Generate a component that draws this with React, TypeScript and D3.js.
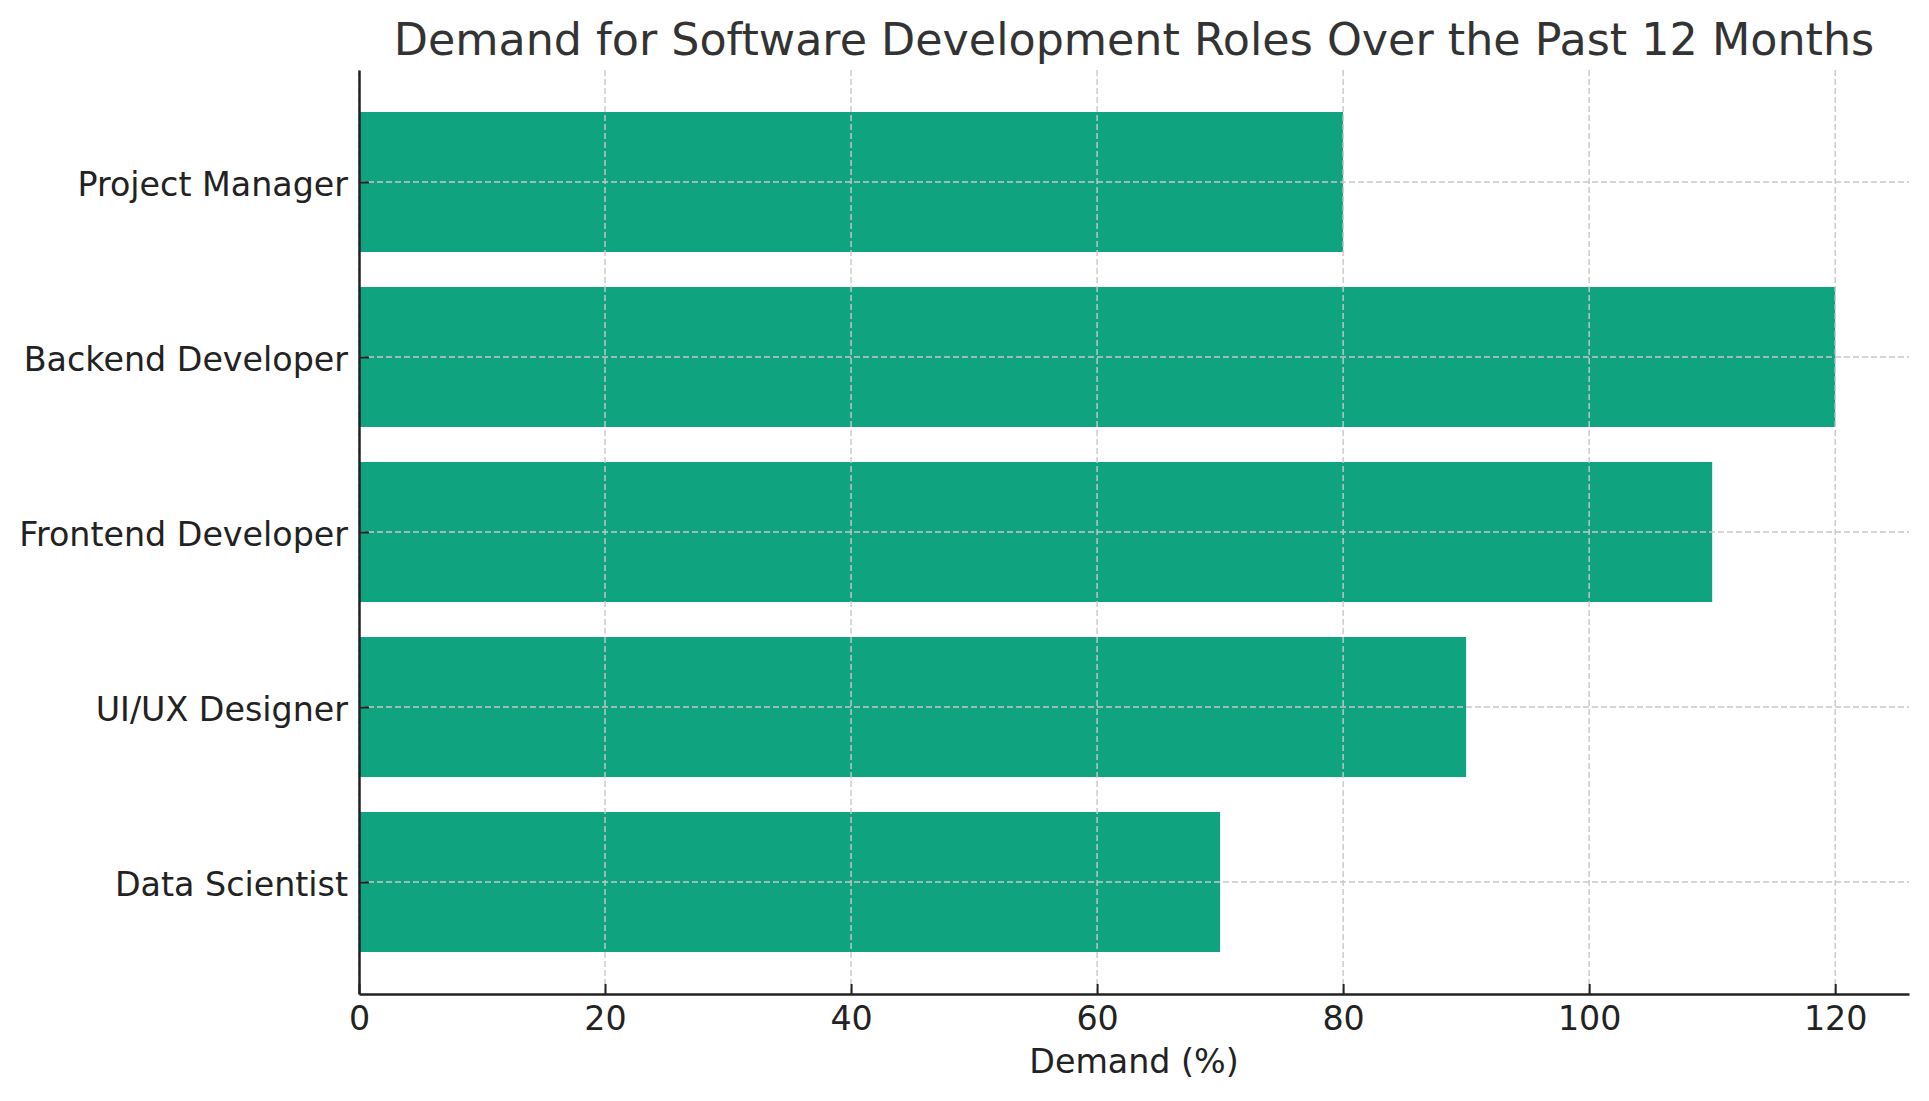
import { useEffect, useRef } from 'react';
import * as d3 from 'd3';

const roles = ['Data Scientist', 'UI/UX Designer', 'Frontend Developer', 'Backend Developer', 'Project Manager'];
const demand = [70, 90, 110, 120, 80];
const xTicks = [0, 20, 40, 60, 80, 100, 120];

const W = 1929;
const H = 1101;

export default function App() {
  const ref = useRef<SVGSVGElement | null>(null);

  useEffect(() => {
    if (!ref.current) return;
    const svg = d3.select(ref.current);
    svg.selectAll('*').remove();

    const margin = { top: 70, right: 20, bottom: 107, left: 359 };
    const width = W - margin.left - margin.right;
    const height = H - margin.top - margin.bottom;
    const font = 'DejaVu Sans, sans-serif';

    const x = d3.scaleLinear().domain([0, 126]).range([0, width]);
    const y = d3.scaleLinear().domain([-0.64, roles.length - 1 + 0.64]).range([height, 0]);

    const g = svg.append('g').attr('transform', `translate(${margin.left},${margin.top})`);

    // bars
    g.selectAll('rect.bar')
      .data(demand)
      .enter()
      .append('rect')
      .attr('class', 'bar')
      .attr('x', x(0))
      .attr('y', (_, i) => y(i + 0.4))
      .attr('width', d => x(d) - x(0))
      .attr('height', (_, i) => y(i - 0.4) - y(i + 0.4))
      .attr('fill', '#10a37f');

    // grid on top of bars
    const grid = g.append('g').attr('stroke', '#c8c8c8').attr('stroke-width', 1.4).attr('stroke-dasharray', '6,3');
    grid.selectAll('line.v')
      .data(xTicks)
      .enter()
      .append('line')
      .attr('x1', d => x(d))
      .attr('x2', d => x(d))
      .attr('y1', 0)
      .attr('y2', height);
    grid.selectAll('line.h')
      .data(roles)
      .enter()
      .append('line')
      .attr('x1', 0)
      .attr('x2', width)
      .attr('y1', (_, i) => y(i))
      .attr('y2', (_, i) => y(i));

    // x axis
    const xAxis = g.append('g')
      .attr('transform', `translate(0,${height})`)
      .call(d3.axisBottom(x).tickValues(xTicks).tickSizeInner(-10).tickSizeOuter(0).tickPadding(12));
    xAxis.select('.domain').attr('stroke', '#222').attr('stroke-width', 2.5);
    xAxis.selectAll('.tick line').attr('stroke', '#222').attr('stroke-width', 2);
    xAxis.selectAll('.tick text')
      .attr('y', 12)
      .attr('dy', '0.71em')
      .attr('fill', '#222')
      .style('font-family', font)
      .style('font-size', '33.3px');

    // y axis
    const yAxis = g.append('g')
      .call(
        d3.axisLeft(y)
          .tickValues(roles.map((_, i) => i))
          .tickFormat(i => roles[i as number])
          .tickSizeInner(-10)
          .tickSizeOuter(0)
          .tickPadding(11)
      );
    yAxis.select('.domain').attr('stroke', '#222').attr('stroke-width', 2.5);
    yAxis.selectAll('.tick line').attr('stroke', '#222').attr('stroke-width', 2);
    yAxis.selectAll('.tick text')
      .attr('x', -11)
      .attr('dy', '0.4em')
      .attr('fill', '#222')
      .style('font-family', font)
      .style('font-size', '33.3px');

    // x label
    svg.append('text')
      .attr('x', margin.left + width / 2)
      .attr('y', 1073)
      .attr('text-anchor', 'middle')
      .attr('fill', '#222')
      .style('font-family', font)
      .style('font-size', '33.3px')
      .text('Demand (%)');

    // title
    svg.append('text')
      .attr('x', margin.left + width / 2)
      .attr('y', 55)
      .attr('text-anchor', 'middle')
      .attr('fill', '#333')
      .style('font-family', font)
      .style('font-size', '44.4px')
      .text('Demand for Software Development Roles Over the Past 12 Months');
  }, []);

  return (
    <svg
      ref={ref}
      width={W}
      height={H}
      style={{ position: 'absolute', left: 0, top: 0, background: '#fff', display: 'block' }}
    ></svg>
  );
}
